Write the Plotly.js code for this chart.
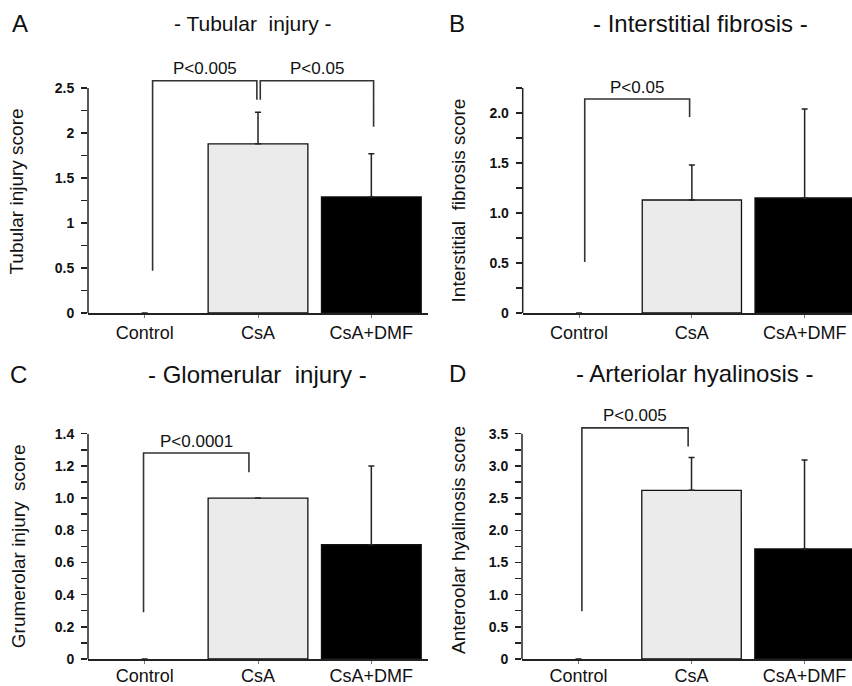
<!DOCTYPE html>
<html>
<head>
<meta charset="utf-8">
<script src="https://cdn.plot.ly/plotly-3.0.1.min.js"></script>
<style>
html,body{margin:0;padding:0;background:#fff;overflow:hidden}
#chart{width:852px;height:686px}
</style>
</head>
<body>
<div id="chart"></div>
<script>
// ---------- data ----------
const categories = ['Control', 'CsA', 'CsA+DMF'];
const categoryPos = [0, 1, 2];
const panelLetters = ['A', 'B', 'C', 'D'];
const panelTitles = ['- Tubular\u00a0 injury -', '- Interstitial fibrosis -', '- Glomerular\u00a0 injury -', '- Arteriolar hyalinosis -'];
const yTitles = ['Tubular injury score', 'Interstitial\u00a0 fibrosis score', 'Grumerolar injury\u00a0 score', 'Anteroolar hyalinosis score'];

const tubularMean = [0, 1.88, 1.29];
const tubularSD = [0, 0.35, 0.48];
const fibrosisMean = [0, 1.13, 1.15];
const fibrosisSD = [0, 0.35, 0.89];
const glomerularMean = [0, 1.00, 0.71];
const glomerularSD = [0, 0, 0.49];
const hyalinosisMean = [0, 2.62, 1.71];
const hyalinosisSD = [0, 0.51, 1.38];

const tubularTicks = [0, 0.25, 0.5, 0.75, 1, 1.25, 1.5, 1.75, 2, 2.25, 2.5];
const tubularTickText = ['0', '', '0.5', '', '1', '', '1.5', '', '2', '', '2.5'];
const fibrosisTicks = [0, 0.25, 0.5, 0.75, 1, 1.25, 1.5, 1.75, 2, 2.25];
const fibrosisTickText = ['0', '', '0.5', '', '1.0', '', '1.5', '', '2.0', ''];
const glomerularTicks = [0, 0.1, 0.2, 0.3, 0.4, 0.5, 0.6, 0.7, 0.8, 0.9, 1.0, 1.1, 1.2, 1.3, 1.4];
const glomerularTickText = ['0', '', '0.2', '', '0.4', '', '0.6', '', '0.8', '', '1.0', '', '1.2', '', '1.4'];
const hyalinosisTicks = [0, 0.25, 0.5, 0.75, 1, 1.25, 1.5, 1.75, 2, 2.25, 2.5, 2.75, 3, 3.25, 3.5];
const hyalinosisTickText = ['0', '', '0.5', '', '1.0', '', '1.5', '', '2.0', '', '2.5', '', '3.0', '', '3.5'];

// significance brackets: [x left, x right] and [left foot, top, right foot]
const tubularBracketX = [[0.07, 0.99], [1.02, 2.02]];
const tubularBracketY = [[0.47, 2.58, 2.37], [2.37, 2.58, 2.07]];
const tubularP = ['P<0.005', 'P<0.05'];
const fibrosisBracketX = [[0.05, 0.98]];
const fibrosisBracketY = [[0.51, 2.14, 1.96]];
const fibrosisP = ['P<0.05'];
const glomerularBracketX = [[-0.01, 0.92]];
const glomerularBracketY = [[0.29, 1.28, 1.16]];
const glomerularP = ['P<0.0001'];
const hyalinosisBracketX = [[0.03, 0.97]];
const hyalinosisBracketY = [[0.74, 3.59, 3.30]];
const hyalinosisP = ['P<0.005'];

// ---------- layout geometry (pixels) ----------
const W = 852, H = 686;
const FONT = 'Liberation Sans, Arial, sans-serif';
const panels = [
  {mean: tubularMean, sd: tubularSD, ticks: tubularTicks, tickText: tubularTickText, bx: tubularBracketX, by: tubularBracketY, p: tubularP,
   left: 88, right: 428, bottom: 313, topPx: 88, xMax: 2.5, rangeTop: 2.7, title: [253, 23], titleSize: 21, letter: [20, 23], standoff: 26, xLabelShift: 0},
  {mean: fibrosisMean, sd: fibrosisSD, ticks: fibrosisTicks, tickText: fibrosisTickText, bx: fibrosisBracketX, by: fibrosisBracketY, p: fibrosisP,
   left: 522.7, right: 852, bottom: 313, topPx: 88, xMax: 2.42, rangeTop: 2.25, title: [700, 23], titleSize: 24, letter: [457, 23], standoff: 18, xLabelShift: 0},
  {mean: glomerularMean, sd: glomerularSD, ticks: glomerularTicks, tickText: glomerularTickText, bx: glomerularBracketX, by: glomerularBracketY, p: glomerularP,
   left: 88, right: 428, bottom: 659, topPx: 433.7, xMax: 2.5, rangeTop: 1.4, title: [257, 374], titleSize: 24, letter: [18, 374], standoff: 24, xLabelShift: -3},
  {mean: hyalinosisMean, sd: hyalinosisSD, ticks: hyalinosisTicks, tickText: hyalinosisTickText, bx: hyalinosisBracketX, by: hyalinosisBracketY, p: hyalinosisP,
   left: 522, right: 852, bottom: 659, topPx: 433.7, xMax: 2.42, rangeTop: 3.7, title: [694, 373], titleSize: 24, letter: [457, 373], standoff: 18, xLabelShift: -3}
];

const data = [];
const layout = {
  width: W, height: H,
  margin: {l: 0, r: 0, t: 0, b: 0},
  paper_bgcolor: '#fff', plot_bgcolor: 'rgba(0,0,0,0)',
  showlegend: false, hovermode: false,
  font: {family: FONT, color: '#111'},
  shapes: [], annotations: []
};

panels.forEach((pn, i) => {
  const n = i + 1;
  const xs = n === 1 ? 'x' : 'x' + n;
  const ys = n === 1 ? 'y' : 'y' + n;
  const xk = n === 1 ? 'xaxis' : 'xaxis' + n;
  const yk = n === 1 ? 'yaxis' : 'yaxis' + n;
  const axisTop = pn.ticks[pn.ticks.length - 1];
  const pxPerUnit = (pn.bottom - pn.topPx) / axisTop;
  const domTopPx = pn.bottom - pn.rangeTop * pxPerUnit;

  data.push({
    type: 'bar', x: categoryPos, y: pn.mean, xaxis: xs, yaxis: ys, width: 0.88,
    marker: {color: ['#ffffff', '#ebebeb', '#000000'], line: {color: '#111', width: [0, 1.3, 1.3]}},
    error_y: {type: 'data', symmetric: false, array: pn.sd, arrayminus: pn.sd.map(() => 0),
              width: 3, thickness: 1.5, color: '#222'}
  });

  layout[xk] = {
    domain: [pn.left / W, pn.right / W], range: [-0.5, pn.xMax], anchor: ys,
    tickvals: categoryPos, ticktext: categories,
    showline: true, linecolor: '#222', linewidth: 1.5,
    ticks: 'outside', ticklen: 3, tickwidth: 1, tickcolor: '#777',
    ticklabelstandoff: pn.xLabelShift,
    tickfont: {family: FONT, size: 18, color: '#111'},
    showgrid: false, zeroline: false, fixedrange: true
  };
  layout[yk] = {
    domain: [1 - pn.bottom / H, 1 - domTopPx / H], range: [0, pn.rangeTop], anchor: xs,
    tickvals: pn.ticks, ticktext: pn.tickText,
    showline: false, ticks: 'outside', ticklen: 6, tickwidth: 1.5, tickcolor: '#222',
    ticklabelstandoff: 4,
    tickfont: {family: FONT, size: 14, color: '#111', weight: 'bold'},
    showgrid: false, zeroline: false, fixedrange: true,
    title: {text: yTitles[i], font: {family: FONT, size: 19, color: '#111'}, standoff: pn.standoff}
  };

  // y axis line up to the last tick
  layout.shapes.push({type: 'line', xref: xs + ' domain', yref: ys, x0: 0, x1: 0, y0: 0, y1: axisTop,
                      line: {color: '#222', width: 1.5}});

  // significance brackets
  pn.bx.forEach((bx, j) => {
    const by = pn.by[j];
    layout.shapes.push({
      type: 'path', xref: xs, yref: ys,
      path: `M ${bx[0]},${by[0]} L ${bx[0]},${by[1]} L ${bx[1]},${by[1]} L ${bx[1]},${by[2]}`,
      line: {color: '#333', width: 1.6}
    });
    layout.annotations.push({
      xref: xs, yref: ys, x: (bx[0] + bx[1]) / 2, y: by[1], yshift: 12,
      text: pn.p[j], showarrow: false, xanchor: 'center', yanchor: 'middle',
      font: {family: FONT, size: 17, color: '#111'}
    });
  });

  layout.annotations.push({
    xref: 'paper', yref: 'paper', x: pn.title[0] / W, y: 1 - pn.title[1] / H,
    text: panelTitles[i], showarrow: false, xanchor: 'center', yanchor: 'middle',
    font: {family: FONT, size: pn.titleSize, color: '#111'}
  });
  layout.annotations.push({
    xref: 'paper', yref: 'paper', x: pn.letter[0] / W, y: 1 - pn.letter[1] / H,
    text: panelLetters[i], showarrow: false, xanchor: 'center', yanchor: 'middle',
    font: {family: FONT, size: 24, color: '#111'}
  });
});

Plotly.newPlot('chart', data, layout, {staticPlot: true, displayModeBar: false});
</script>
</body>
</html>
